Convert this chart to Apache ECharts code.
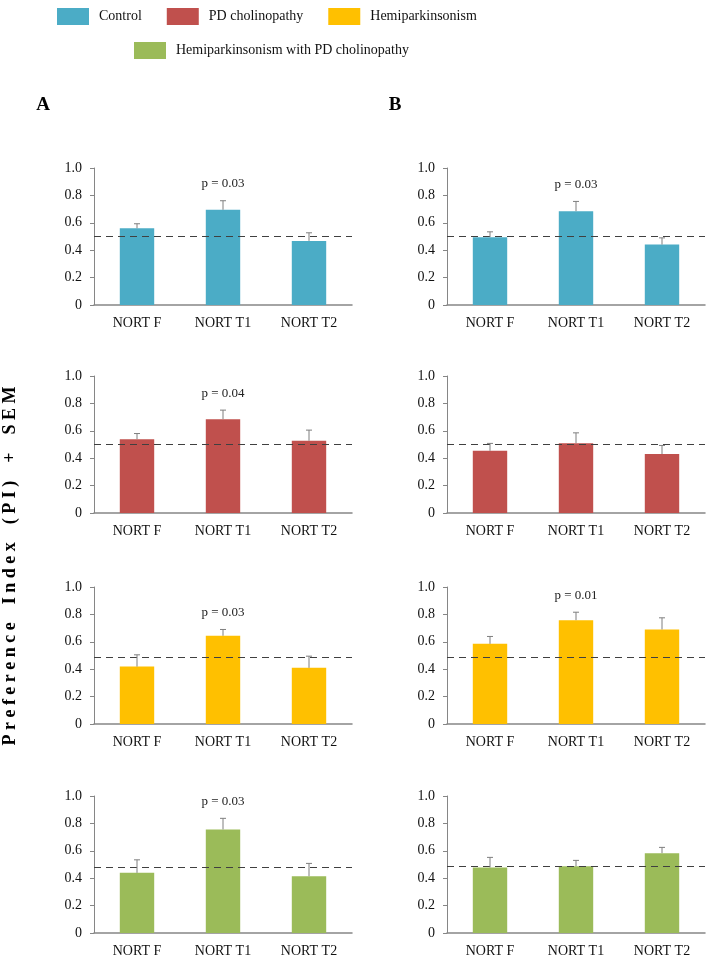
<!DOCTYPE html>
<html>
<head>
<meta charset="utf-8">
<script src="https://cdn.jsdelivr.net/npm/echarts@6/dist/echarts.min.js"></script>
<style>
  html, body { margin: 0; padding: 0; background: #fff; }
  #main { width: 708px; height: 958px; }
</style>
</head>
<body>
<div id="main"></div>
<script>
var categories = ['NORT F', 'NORT T1', 'NORT T2'];
var groups = ['Control', 'PD cholinopathy', 'Hemiparkinsonism', 'Hemiparkinsonism with PD cholinopathy'];
var colors = ['#4BACC6', '#C0504D', '#FFC000', '#9BBB59'];

// panel A (mean, SEM)
var controlA = [0.56, 0.695, 0.468];
var controlA_sem = [0.033, 0.066, 0.059];
var pdA = [0.539, 0.685, 0.527];
var pdA_sem = [0.041, 0.066, 0.078];
var hemiA = [0.419, 0.644, 0.41];
var hemiA_sem = [0.086, 0.046, 0.085];
var hemiPdA = [0.439, 0.756, 0.415];
var hemiPdA_sem = [0.095, 0.081, 0.093];

// panel B (mean, SEM)
var controlB = [0.495, 0.685, 0.441];
var controlB_sem = [0.039, 0.071, 0.049];
var pdB = [0.454, 0.51, 0.43];
var pdB_sem = [0.054, 0.075, 0.063];
var hemiB = [0.585, 0.758, 0.69];
var hemiB_sem = [0.054, 0.058, 0.085];
var hemiPdB = [0.478, 0.488, 0.583];
var hemiPdB_sem = [0.074, 0.042, 0.042];

// chance level (dashed) per row
var chanceA = [0.50, 0.50, 0.49, 0.48];
var chanceB = [0.50, 0.50, 0.49, 0.49];

// p value over NORT T1 (empty = none)
var pA = ['p = 0.03', 'p = 0.04', 'p = 0.03', 'p = 0.03'];
var pB = ['p = 0.03', '', 'p = 0.01', ''];

var yTicks = ['0', '0.2', '0.4', '0.6', '0.8', '1.0'];

var panels = [
  { means: [controlA, pdA, hemiA, hemiPdA], sems: [controlA_sem, pdA_sem, hemiA_sem, hemiPdA_sem], chance: chanceA, p: pA },
  { means: [controlB, pdB, hemiB, hemiPdB], sems: [controlB_sem, pdB_sem, hemiB_sem, hemiPdB_sem], chance: chanceB, p: pB }
];

var font = '"Times New Roman", "Liberation Serif", serif';
var gridLefts = [94, 447];
var gridTops = [168, 376, 587, 796];

var myChart = echarts.init(document.getElementById('main'));

var grids = [], xAxes = [], yAxes = [], series = [];

panels.forEach(function(panel, c) {
  for (var r = 0; r < 4; r++) {
    var idx = grids.length;
    grids.push({ left: gridLefts[c], top: gridTops[r], width: 258, height: 137 });
    xAxes.push({
      type: 'category', gridIndex: idx, data: categories,
      axisLine: { lineStyle: { color: '#868686', width: 1.5 } },
      axisTick: { length: 5, lineStyle: { color: '#868686' } },
      axisLabel: { color: '#111', fontFamily: font, fontSize: 14, margin: 11 }
    });
    yAxes.push({
      type: 'value', gridIndex: idx, min: 0, max: 1, interval: 0.2,
      splitLine: { show: false },
      axisLine: { show: true, lineStyle: { color: '#868686' } },
      axisTick: { show: true, length: 4, lineStyle: { color: '#868686' } },
      axisLabel: {
        color: '#111', fontFamily: font, fontSize: 14, margin: 12,
        formatter: function(v) { return yTicks[Math.round(v * 5)]; }
      }
    });
    series.push({
      name: groups[r], type: 'bar', xAxisIndex: idx, yAxisIndex: idx,
      data: panel.means[r], barWidth: '40%',
      itemStyle: { color: colors[r] },
      markLine: {
        silent: true, symbol: 'none',
        label: { show: false },
        lineStyle: { color: '#404040', type: [7, 5], width: 1 },
        data: [{ yAxis: panel.chance[r] }]
      }
    });
    var errData = panel.means[r].map(function(m, i) {
      return [i, m, m + panel.sems[r][i]];
    });
    (function(pText) {
      series.push({
        name: 'sem' + idx, type: 'custom', xAxisIndex: idx, yAxisIndex: idx,
        z: 5, silent: true,
        data: errData,
        encode: { x: 0, y: [1, 2] },
        renderItem: function(params, api) {
          var base = api.coord([api.value(0), api.value(1)]);
          var top = api.coord([api.value(0), api.value(2)]);
          var st = { stroke: '#7f7f7f', lineWidth: 1 };
          var children = [
            { type: 'line', shape: { x1: base[0], y1: base[1], x2: base[0], y2: top[1] }, style: st },
            { type: 'line', shape: { x1: base[0] - 3, y1: top[1], x2: base[0] + 3, y2: top[1] }, style: st }
          ];
          if (params.dataIndex === 1 && pText) {
            children.push({
              type: 'text', x: base[0], y: top[1] - 17,
              style: { text: pText, textAlign: 'center', textVerticalAlign: 'middle',
                       fill: '#222', font: '13px ' + font }
            });
          }
          return { type: 'group', children: children };
        }
      });
    })(panel.p[r]);
  }
});

var option = {
  animation: false,
  legend: [
    {
      data: groups.slice(0, 3), left: 52, top: 3, icon: 'rect',
      itemWidth: 32, itemHeight: 17, itemGap: 25,
      textStyle: { fontFamily: font, fontSize: 14, color: '#111', padding: [0, 0, 0, 5] }
    },
    {
      data: groups.slice(3), left: 129, top: 37, icon: 'rect',
      itemWidth: 32, itemHeight: 17,
      textStyle: { fontFamily: font, fontSize: 14, color: '#111', padding: [0, 0, 0, 5] }
    }
  ],
  graphic: [
    { type: 'text', x: 43, y: 105, style: { text: 'A', textAlign: 'center', textVerticalAlign: 'middle', font: 'bold 19px ' + font, fill: '#000' } },
    { type: 'text', x: 395, y: 105, style: { text: 'B', textAlign: 'center', textVerticalAlign: 'middle', font: 'bold 19px ' + font, fill: '#000' } },
    { type: 'text', x: 10, y: 566, rotation: Math.PI / 2,
      style: { text: 'P r e f e r e n c e    I n d e x    ( P I )    +    S E M', textAlign: 'center', textVerticalAlign: 'middle', font: 'bold 18px ' + font, fill: '#000' } }
  ],
  grid: grids,
  xAxis: xAxes,
  yAxis: yAxes,
  series: series
};

myChart.setOption(option);
</script>
</body>
</html>
